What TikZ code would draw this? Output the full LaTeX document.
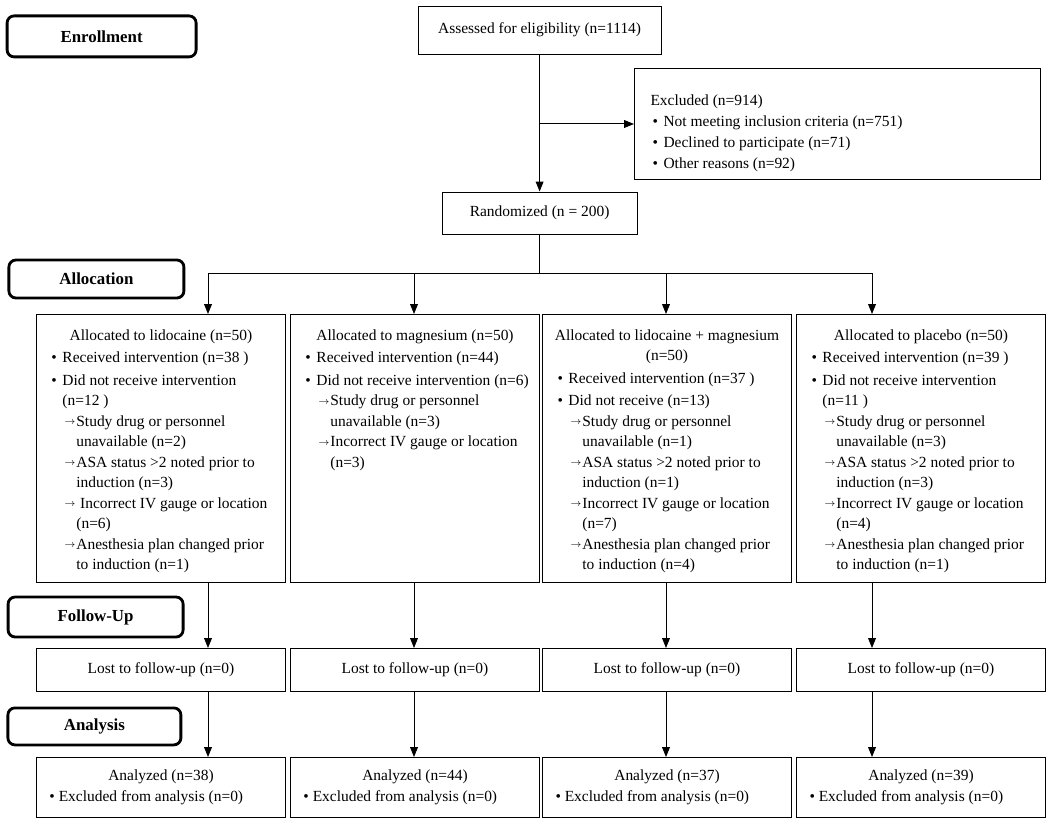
\documentclass[tikz,border=0pt]{standalone}
\usepackage{fontspec}
\setmainfont{Liberation Serif}
\usetikzlibrary{arrows.meta}
\tikzset{
  phase/.style={draw,line width=2pt,rounded corners=5pt,inner sep=0pt,font=\fontsize{12}{14}\selectfont\bfseries},
  box/.style={draw,line width=0.7pt,inner sep=0pt,align=center,font=\fontsize{11}{15}\selectfont},
  allocbox/.style={draw,line width=0.7pt,anchor=north west,inner xsep=0.15cm,inner ysep=0.375cm,font=\fontsize{11}{14.6}\selectfont},
  flow/.style={line width=0.7pt}
}
% list lines inside the boxes
\newcommand{\bul}[1]{\par\vspace{1.4pt}\hangindent=\dimexpr0.225cm+7.8pt\relax\hangafter=1\hspace*{0.225cm}\makebox[7.8pt][l]{\textbullet}#1}
\newcommand{\arr}[1]{\par\hangindent=\dimexpr0.225cm+17.7pt\relax\hangafter=1\hspace*{\dimexpr0.225cm+9.2pt\relax}\makebox[8.5pt][l]{\raisebox{1.2pt}{\fontsize{7}{7}\selectfont$\rightarrow$}}#1}
\newcommand{\alloctext}[1]{\parbox[c][5.95cm][t]{5.925cm}{\parindent=0pt\raggedright #1}}

\begin{document}
\begin{tikzpicture}[>={Triangle[length=7pt,width=5.5pt]}]
\useasboundingbox (0,0) rectangle (26.25,-20.5);

% phases
\node[phase,minimum width=4.725cm,minimum height=1.025cm] (enrol) at (2.54,-0.91) {Enrollment};
\node[phase,minimum width=4.375cm,minimum height=0.95cm] (alloc) at (2.41,-6.975) {Allocation};
\node[phase,minimum width=4.375cm,minimum height=1.0cm] (follow) at (2.39,-15.425) {Follow-Up};
\node[phase,minimum width=4.325cm,minimum height=0.925cm] (analysis) at (2.36,-18.16) {Analysis};

% enrollment
\node[box,minimum width=6.075cm,minimum height=1.2cm] (assessed) at (13.49,-0.75) {Assessed for eligibility (n=1114)};
\node[box,anchor=north west,inner xsep=0.4cm,inner ysep=0.0875cm] (excl) at (15.85,-1.7) {\parbox[c][2.6cm][c]{9.35cm}{\parindent=0pt\raggedright\vspace*{0.45cm}%
  Excluded (n=914)
  \par\hangindent=7.8pt\hangafter=1\hspace*{1.5pt}\makebox[7.8pt][l]{\textbullet}Not meeting inclusion criteria (n=751)
  \par\hangindent=7.8pt\hangafter=1\hspace*{1.5pt}\makebox[7.8pt][l]{\textbullet}Declined to participate (n=71)
  \par\hangindent=7.8pt\hangafter=1\hspace*{1.5pt}\makebox[7.8pt][l]{\textbullet}Other reasons (n=92)}};
\node[box,minimum width=4.875cm,minimum height=1.05cm] (rand) at (13.49,-5.325) {Randomized (n = 200)};

% allocation
\node[allocbox] (alloc1) at (0.9,-7.85) {\alloctext{{\centering Allocated to lidocaine (n=50)\par}
  \bul{Received intervention (n=38 )}
  \bul{Did not receive intervention\newline(n=12 )}
  \arr{Study drug or personnel\newline unavailable (n=2)}
  \arr{ASA status >2 noted prior to\newline induction (n=3)}
  \arr{\ Incorrect IV gauge or location\newline(n=6)}
  \arr{Anesthesia plan changed prior\newline to induction (n=1)}}};
\node[allocbox] (alloc2) at (7.25,-7.85) {\alloctext{{\centering Allocated to magnesium (n=50)\par}
  \bul{Received intervention (n=44)}
  \bul{Did not receive intervention (n=6)}
  \arr{Study drug or personnel\newline unavailable (n=3)}
  \arr{Incorrect IV gauge or location\newline(n=3)}}};
\node[allocbox] (alloc3) at (13.55,-7.85) {\alloctext{{\centering Allocated to lidocaine + magnesium\\(n=50)\par}
  \bul{Received intervention (n=37 )}
  \bul{Did not receive (n=13)}
  \arr{Study drug or personnel\newline unavailable (n=1)}
  \arr{ASA status >2 noted prior to\newline induction (n=1)}
  \arr{Incorrect IV gauge or location\newline(n=7)}
  \arr{Anesthesia plan changed prior\newline to induction (n=4)}}};
\node[allocbox] (alloc4) at (19.9,-7.85) {\alloctext{{\centering Allocated to placebo (n=50)\par}
  \bul{Received intervention (n=39 )}
  \bul{Did not receive intervention\newline(n=11 )}
  \arr{Study drug or personnel\newline unavailable (n=3)}
  \arr{ASA status >2 noted prior to\newline induction (n=3)}
  \arr{Incorrect IV gauge or location\newline(n=4)}
  \arr{Anesthesia plan changed prior\newline to induction (n=1)}}};

% follow-up and analysis
\foreach \i/\x/\n in {1/0.9/38,2/7.25/44,3/13.55/37,4/19.9/39}{
  \node[box,anchor=north west,minimum width=6.225cm,minimum height=1.075cm] (lost\i) at (\x,-16.2) {Lost to follow-up (n=0)};
  \node[box,anchor=north west,inner xsep=0.15cm,minimum height=1.5cm] (anal\i) at (\x,-18.925) {\parbox{5.925cm}{\parindent=0pt{\centering Analyzed (n=\n)\par}\hspace*{0.175cm}\textbullet\ Excluded from analysis (n=0)}};
}

% columns of the arrows
\coordinate (c1) at (5.2,-6.825);
\coordinate (c2) at (10.35,-6.825);
\coordinate (c3) at (16.65,-6.825);
\coordinate (c4) at (21.8,-6.825);

\draw[flow,->] (assessed) -- (rand);
\draw[flow,->] (assessed.south |- excl.west) -- (excl.west);
\draw[flow] (rand.south) -- (rand.south |- c1);
\draw[flow] (c1) -- (c4);
\foreach \i in {1,...,4}{
  \draw[flow,->] (c\i) -- (c\i |- alloc\i.north);
  \draw[flow,->] (c\i |- alloc\i.south) -- (c\i |- lost\i.north);
  \draw[flow,->] (c\i |- lost\i.south) -- (c\i |- anal\i.north);
}
\end{tikzpicture}
\end{document}
